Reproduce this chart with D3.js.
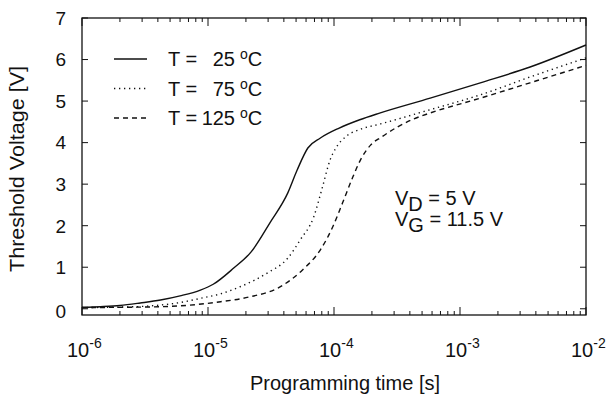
<!DOCTYPE html>
<html>
<head>
<meta charset="utf-8">
<script src="https://cdn.jsdelivr.net/npm/d3@7"></script>
<style>
  body { margin: 0; background: #fff; }
  text { font-family: "Liberation Sans", Arial, sans-serif; fill: #111; }
</style>
</head>
<body>
<div id="chart"></div>
<script>
// programming time [s] and threshold voltage [V] for each temperature
const t25 = [1e-6, 1.4e-6, 2e-6, 2.9e-6, 4.2e-6, 6e-6, 8.7e-6, 1.1e-5, 1.6e-5, 2.2e-5, 3.1e-5,
             4.3e-5, 5.1e-5, 6.2e-5, 7.8e-5, 1.1e-4, 1.6e-4, 2.3e-4, 5.8e-4, 1.45e-3, 3.6e-3, 1e-2];
const v25 = [0.03, 0.05, 0.08, 0.14, 0.21, 0.31, 0.45, 0.59, 0.98, 1.37, 2.07,
             2.79, 3.34, 3.87, 4.11, 4.35, 4.55, 4.71, 5.07, 5.44, 5.82, 6.35];

const t75 = [1e-6, 2e-6, 3.5e-6, 6e-6, 8.7e-6, 1.26e-5, 1.8e-5, 2.95e-5, 4.3e-5, 5.4e-5,
             6.9e-5, 8.1e-5, 9.3e-5, 1.05e-4, 1.26e-4, 1.62e-4, 2.34e-4, 5.75e-4, 1.45e-3, 3.6e-3, 1e-2];
const v75 = [0.03, 0.04, 0.07, 0.15, 0.25, 0.36, 0.53, 0.86, 1.22, 1.66,
             2.21, 2.93, 3.58, 3.9, 4.16, 4.32, 4.45, 4.79, 5.15, 5.58, 6.04];

const t125 = [1e-6, 2.9e-6, 6e-6, 1.26e-5, 2.1e-5, 3.7e-5, 5.6e-5, 7.8e-5, 9.8e-5, 1.17e-4,
              1.41e-4, 1.62e-4, 1.95e-4, 2.4e-4, 3.2e-4, 4.3e-4, 5.75e-4, 1.45e-3, 3.6e-3, 1e-2];
const v125 = [0.03, 0.04, 0.07, 0.17, 0.28, 0.52, 0.93, 1.42, 1.98, 2.55,
              3.17, 3.58, 3.94, 4.14, 4.38, 4.57, 4.71, 5.07, 5.44, 5.86];

const seriesNames = ["25", "75", "125"];
const xTickExps = [-6, -5, -4, -3, -2];
const yTicks = [0, 1, 2, 3, 4, 5, 6, 7];

const width = 609, height = 398;
const margin = { left: 82, right: 23, top: 18, bottom: 83 };

const svg = d3.select("#chart").append("svg")
  .attr("width", width)
  .attr("height", height);

const x = d3.scaleLog()
  .domain([1e-6, 1e-2])
  .range([margin.left, width - margin.right]);
const y = d3.scaleLinear()
  .domain([-0.15, 7])
  .range([height - margin.bottom, margin.top]);

const x0 = margin.left, x1 = width - margin.right;
const y0 = height - margin.bottom, y1 = margin.top;

// tick marks, drawn inward on all four sides
const ticks = svg.append("g").attr("stroke", "#111").attr("stroke-width", 1);
const minorT = [];
for (let e = -6; e < -2; e++) for (let k = 2; k <= 9; k++) minorT.push(k * Math.pow(10, e));
xTickExps.forEach(e => {
  const px = x(Math.pow(10, e));
  ticks.append("line").attr("x1", px).attr("x2", px).attr("y1", y0).attr("y2", y0 - 8);
  ticks.append("line").attr("x1", px).attr("x2", px).attr("y1", y1).attr("y2", y1 + 8);
});
minorT.forEach(t => {
  const px = x(t);
  ticks.append("line").attr("x1", px).attr("x2", px).attr("y1", y0).attr("y2", y0 - 4);
  ticks.append("line").attr("x1", px).attr("x2", px).attr("y1", y1).attr("y2", y1 + 4);
});
yTicks.forEach(v => {
  const py = y(v);
  ticks.append("line").attr("x1", x0).attr("x2", x0 + 6).attr("y1", py).attr("y2", py);
  ticks.append("line").attr("x1", x1).attr("x2", x1 - 6).attr("y1", py).attr("y2", py);
});

// frame
svg.append("rect")
  .attr("x", x0).attr("y", y1)
  .attr("width", x1 - x0).attr("height", y0 - y1)
  .attr("fill", "none").attr("stroke", "#111").attr("stroke-width", 1.3);

// tick labels
svg.append("g").selectAll("text")
  .data(yTicks)
  .join("text")
  .attr("x", x0 - 16)
  .attr("y", d => y(d) + (d === 0 ? 2 : 0))
  .attr("dy", "0.36em")
  .attr("text-anchor", "end")
  .attr("font-size", 19)
  .text(d => d);

const xl = svg.append("g").selectAll("text")
  .data(xTickExps)
  .join("text")
  .attr("x", d => x(Math.pow(10, d)) - 15)
  .attr("y", 357)
  .attr("font-size", 20);
xl.append("tspan").text("10");
xl.append("tspan").attr("dy", -9).attr("font-size", 14).text(d => d);

// curves
const line = d3.line()
  .x(d => x(d[0]))
  .y(d => y(d[1]))
  .curve(d3.curveMonotoneX);

const styles = [
  { t: t25, v: v25, dash: null },
  { t: t75, v: v75, dash: "1.3,3.7" },
  { t: t125, v: v125, dash: "5,4" }
];
styles.forEach(s => {
  svg.append("path")
    .datum(d3.zip(s.t, s.v))
    .attr("d", line)
    .attr("fill", "none")
    .attr("stroke", "#111")
    .attr("stroke-width", 1.4)
    .attr("stroke-dasharray", s.dash);
});

// legend
const legend = svg.append("g");
seriesNames.forEach((name, i) => {
  const ly = 59 + i * 29.5;
  legend.append("line")
    .attr("x1", 114).attr("x2", 147)
    .attr("y1", ly).attr("y2", ly)
    .attr("stroke", "#111").attr("stroke-width", 1.3)
    .attr("stroke-dasharray", styles[i].dash);
  legend.append("text").attr("x", 168).attr("y", ly + 7).attr("font-size", 20).text("T =");
  legend.append("text").attr("x", 235).attr("y", ly + 7).attr("font-size", 20)
    .attr("text-anchor", "end").text(name);
  const unit = legend.append("text").attr("x", 240).attr("y", ly + 7).attr("font-size", 20);
  unit.append("tspan").attr("font-size", 14).attr("dy", -7).text("o");
  unit.append("tspan").attr("dy", 7).text("C");
});

// condition annotation
const ann = [["D", "= 5 V"], ["G", "= 11.5 V"]];
ann.forEach((a, i) => {
  const tx = svg.append("text").attr("x", 395).attr("y", 205 + i * 21).attr("font-size", 20);
  tx.append("tspan").text("V");
  tx.append("tspan").attr("dy", 6).text(a[0]);
  tx.append("tspan").attr("dy", -6).text(" " + a[1]);
});

// axis titles
svg.append("text")
  .attr("transform", `translate(24,169) rotate(-90)`)
  .attr("text-anchor", "middle")
  .attr("font-size", 20)
  .attr("textLength", 206)
  .attr("lengthAdjust", "spacingAndGlyphs")
  .text("Threshold Voltage [V]");
svg.append("text")
  .attr("x", 345)
  .attr("y", 390)
  .attr("text-anchor", "middle")
  .attr("font-size", 20)
  .text("Programming time [s]");
</script>
</body>
</html>
